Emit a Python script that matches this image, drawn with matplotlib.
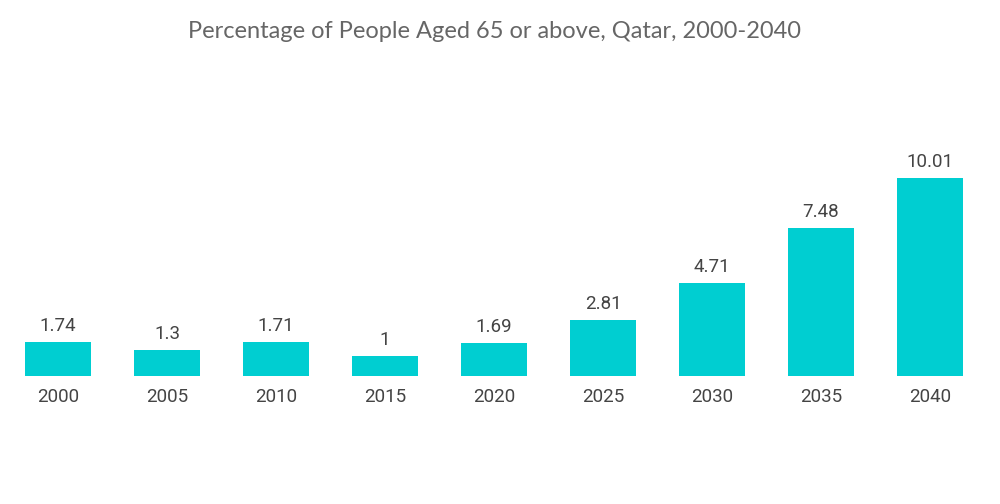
import matplotlib
matplotlib.use("Agg")
import matplotlib.pyplot as plt

years = ["2000", "2005", "2010", "2015", "2020", "2025", "2030", "2035", "2040"]
values = [1.74, 1.3, 1.71, 1, 1.69, 2.81, 4.71, 7.48, 10.01]
labels = ["1.74", "1.3", "1.71", "1", "1.69", "2.81", "4.71", "7.48", "10.01"]

fig = plt.figure(figsize=(10, 5.04), dpi=100)
ax = fig.add_axes([0.0035, 0.254, 0.981, 0.4714])

x = range(len(years))
bars = ax.bar(x, values, width=0.6, color="#00CED1")

for b, lab in zip(bars, labels):
    ax.annotate(lab, xy=(b.get_x() + b.get_width() / 2, b.get_height()),
                xytext=(0, 5), textcoords="offset points",
                ha="center", va="bottom", fontsize=13.5, color="#444444",
                family="Roboto")

ax.set_xlim(-0.5, len(years) - 0.5)
ax.set_ylim(0, 12)
ax.set_xticks(list(x))
ax.set_xticklabels(years, fontsize=13.5, color="#444444", family="Roboto")
ax.tick_params(axis="x", length=0, pad=9)
ax.set_yticks([])
for s in ax.spines.values():
    s.set_visible(False)

fig.text(0.495, 0.937, "Percentage of People Aged 65 or above, Qatar, 2000-2040",
         ha="center", va="center", fontsize=17, color="#666666", family="Lato")

fig.savefig("out.png", dpi=100)
